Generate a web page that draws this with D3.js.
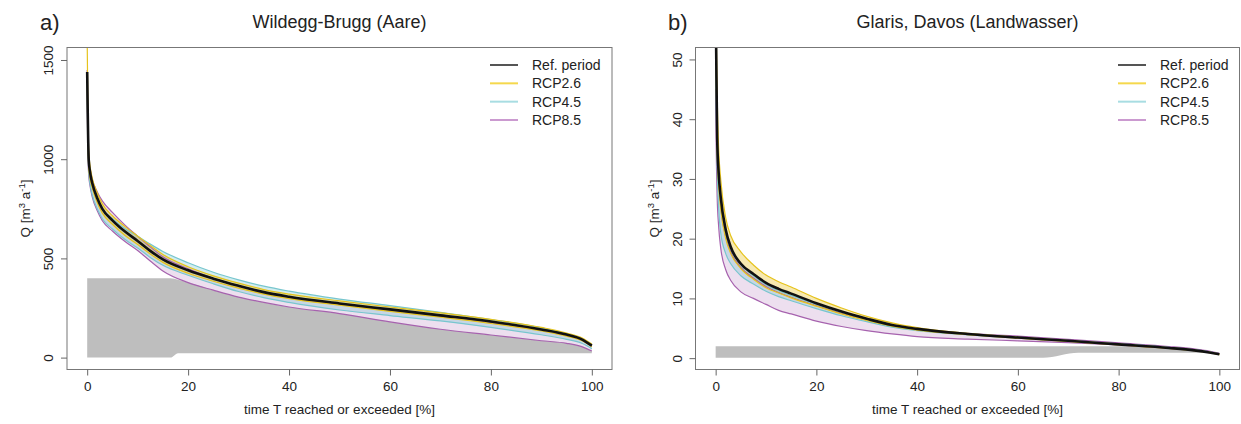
<!DOCTYPE html>
<html><head><meta charset="utf-8">
<script src="https://cdn.jsdelivr.net/npm/d3@7"></script>
<style>
html,body{margin:0;padding:0;background:#fff;}
svg{display:block;font-family:"Liberation Sans",Arial,Helvetica,sans-serif;}
</style></head>
<body><svg id="c" width="1241" height="424"></svg>
<script>
// ---------- DATA ----------
const pct = [0,0.1,0.3,0.6,1,2,3,5,7.5,10,12.5,15,20,25,30,35,40,50,60,70,80,90,95,98,100];
const seriesNames = ["Ref. period","RCP2.6","RCP4.5","RCP8.5"];
const xTicks = [0,20,40,60,80,100];

// Panel a: Wildegg-Brugg (Aare)
const refA     = [1440,1250,1000,930,880,803,750,692,635,588,538,495,440,398,362,330,307,273,243,213,182,142,116,92,60];
const rcp26A_hi= [1600,1350,1040,960,905,830,775,715,660,612,565,520,458,412,375,343,320,286,255,225,193,152,124,100,68];
const rcp26A_lo= [1400,1180,960,900,855,780,728,672,615,570,522,480,425,385,350,320,297,264,233,204,172,134,108,86,55];
const rcp45A_hi= [1420,1200,990,920,870,800,752,700,650,612,572,535,478,430,392,360,335,295,262,228,192,150,120,96,64];
const rcp45A_lo= [1380,1150,940,870,820,750,700,648,595,552,505,465,415,372,333,302,278,240,212,185,152,115,92,72,45];
const rcp85A_hi= [1450,1230,1010,950,900,835,790,732,668,612,558,508,448,400,362,330,305,270,240,210,178,140,113,90,58];
const rcp85A_lo= [1350,1100,920,860,810,740,690,638,585,540,487,437,378,340,305,278,255,222,180,143,114,85,72,55,33];
const grayA_x  = [0,16.5,18,20,25,30,35,40,50,60,70,80,90,95,98,100];
const grayA_top= [400,400,392,378,340,305,278,255,222,180,143,114,85,72,55,33];
const grayA_bot= [0,0,22,22,22,22,22,22,22,22,22,22,22,22,22,22];
const yTicksA  = [0,500,1000,1500];

// Panel b: Glaris, Davos (Landwasser)
const refB     = [60,52,37,31,27,21.5,18.6,15.8,14.1,12.6,11.6,10.8,9.2,7.8,6.6,5.55,4.9,4.05,3.45,2.9,2.3,1.7,1.3,0.95,0.65];
const rcp26B_hi= [62,56,44,35,30,23.5,20.5,17.8,15.6,13.9,12.8,11.9,10.0,8.4,7.0,5.9,5.1,4.15,3.5,2.95,2.35,1.75,1.35,1.0,0.7];
const rcp26B_lo= [55,48,35,29,25,20,17.5,15,13.2,11.8,10.9,10.1,8.7,7.4,6.3,5.35,4.7,3.95,3.35,2.8,2.2,1.62,1.25,0.9,0.6];
const rcp45B_hi= [58,50,38,31,26.5,21,18.3,15.6,13.8,12.3,11.3,10.5,9.0,7.7,6.5,5.5,4.9,4.1,3.5,2.95,2.4,1.8,1.4,1.05,0.72];
const rcp45B_lo= [50,42,32,25,21,17.5,15.8,13.8,12.4,11.2,10.3,9.6,8.3,7.1,6.1,5.2,4.6,3.9,3.35,2.85,2.3,1.7,1.3,0.95,0.65];
const rcp85B_hi= [56,48,36,30,25.5,20.5,17.8,15.2,13.4,12.0,11.0,10.2,8.8,7.5,6.4,5.5,4.9,4.15,3.7,3.15,2.55,1.95,1.55,1.2,0.8];
const rcp85B_lo= [45,36,27,22,18.5,14.8,13,11.1,10,9.0,8.0,7.4,6.2,5.3,4.6,4.05,3.6,3.2,2.9,2.6,2.2,1.7,1.35,1.0,0.7];
const grayB_x  = [0,65,72,82,90,95,97];
const grayB_top= [2.0,2.0,2.0,2.0,1.62,1.25,0.95];
const grayB_bot= [0.05,0.05,0.9,0.9,0.9,0.9,0.95];
const yTicksB  = [0,10,20,30,40,50];

// ---------- STYLE ----------
const lineCol  = {"RCP2.6":"#E6C31C","RCP4.5":"#78C6CE","RCP8.5":"#A662AE"};
const fillCol  = {"RCP2.6":"rgba(232,192,30,0.35)","RCP4.5":"rgba(110,195,205,0.30)","RCP8.5":"rgba(172,108,184,0.22)"};
const legCol   = {"Ref. period":"#555","RCP2.6":"#F5D84C","RCP4.5":"#A8DDE2","RCP8.5":"#CB9AD0"};
const txt = "#222";

const svg = d3.select("#c");

const panels = [
  {id:"a", tag:"a)", title:"Wildegg-Brugg (Aare)", box:[67,612,47.5,369.5], yDom:[-60,1563], yTicks:yTicksA,
   ref:refA, bands:{"RCP8.5":[rcp85A_lo,rcp85A_hi],"RCP4.5":[rcp45A_lo,rcp45A_hi],"RCP2.6":[rcp26A_lo,rcp26A_hi]},
   gx:grayA_x, gt:grayA_top, gb:grayA_bot, legX:490},
  {id:"b", tag:"b)", title:"Glaris, Davos (Landwasser)", box:[695.5,1239.5,47.5,369.5], yDom:[-1.9,52], yTicks:yTicksB,
   ref:refB, bands:{"RCP8.5":[rcp85B_lo,rcp85B_hi],"RCP4.5":[rcp45B_lo,rcp45B_hi],"RCP2.6":[rcp26B_lo,rcp26B_hi]},
   gx:grayB_x, gt:grayB_top, gb:grayB_bot, legX:1118}
];

panels.forEach(p=>{
  const [L,R,T,B] = p.box;
  const x = d3.scaleLinear().domain([-4,104]).range([L,R]);
  const y = d3.scaleLinear().domain(p.yDom).range([B,T]);
  const g = svg.append("g");

  svg.append("clipPath").attr("id","clip"+p.id).append("rect")
    .attr("x",L).attr("y",T).attr("width",R-L).attr("height",B-T);
  const pg = g.append("g").attr("clip-path","url(#clip"+p.id+")");

  // gray area
  const gArea = d3.area().x((d,i)=>x(p.gx[i])).y0((d,i)=>y(p.gb[i])).y1((d,i)=>y(p.gt[i])).curve(d3.curveMonotoneX);
  pg.append("path").datum(p.gx).attr("d",gArea).attr("fill","#BEBEBE");

  // bands
  const order = ["RCP8.5","RCP4.5","RCP2.6"];
  order.forEach(k=>{
    const [lo,hi] = p.bands[k];
    const ar = d3.area().x((d,i)=>x(pct[i])).y0((d,i)=>y(lo[i])).y1((d,i)=>y(hi[i])).curve(d3.curveMonotoneX);
    pg.append("path").datum(pct).attr("d",ar).attr("fill",fillCol[k]);
  });
  order.forEach(k=>{
    const [lo,hi] = p.bands[k];
    [lo,hi].forEach(arr=>{
      const ln = d3.line().x((d,i)=>x(pct[i])).y((d,i)=>y(arr[i])).curve(d3.curveMonotoneX);
      pg.append("path").datum(pct).attr("d",ln).attr("fill","none").attr("stroke",lineCol[k]).attr("stroke-width",1.2);
    });
  });
  const refLine = d3.line().x((d,i)=>x(pct[i])).y((d,i)=>y(p.ref[i])).curve(d3.curveMonotoneX);
  pg.append("path").datum(pct).attr("d",refLine).attr("fill","none").attr("stroke","#111").attr("stroke-width",2.6);

  // box
  g.append("rect").attr("x",L).attr("y",T).attr("width",R-L).attr("height",B-T)
    .attr("fill","none").attr("stroke","#777").attr("stroke-width",1);

  // axes
  const xa = g.append("g").attr("transform",`translate(0,${B})`)
    .call(d3.axisBottom(x).tickValues(xTicks).tickSize(6).tickPadding(6).tickFormat(d3.format("d")));
  xa.select(".domain").remove();
  xa.selectAll("line").attr("stroke","#666");
  xa.selectAll("text").attr("fill",txt).style("font-size","13.5px").attr("dy","0.71em");

  const ya = g.append("g").attr("transform",`translate(${L},0)`)
    .call(d3.axisLeft(y).tickValues(p.yTicks).tickSize(6).tickFormat(d3.format("d")));
  ya.select(".domain").remove();
  ya.selectAll("line").attr("stroke","#666");
  ya.selectAll("text").attr("fill",txt).style("font-size","13.5px")
    .attr("transform","rotate(-90)").attr("x",0).attr("y",-14).attr("dy",0)
    .attr("text-anchor","middle");

  // axis titles
  g.append("text").attr("x",(L+R)/2).attr("y",414).attr("text-anchor","middle")
    .attr("fill",txt).style("font-size","13.5px").text("time T reached or exceeded [%]");
  const yt = g.append("text").attr("transform",`translate(${L-37},${(T+B)/2}) rotate(-90)`)
    .attr("text-anchor","middle").attr("fill",txt).style("font-size","13.5px");
  yt.append("tspan").text("Q [m");
  yt.append("tspan").attr("dy",-5).style("font-size","9.5px").text("3");
  yt.append("tspan").attr("dy",5).text(" a");
  yt.append("tspan").attr("dy",-5).style("font-size","9.5px").text("-1");
  yt.append("tspan").attr("dy",5).text("]");

  // titles
  g.append("text").attr("x",(L+R)/2).attr("y",28).attr("text-anchor","middle")
    .attr("fill",txt).style("font-size","18px").text(p.title);
  g.append("text").attr("x",p.id==="a"?40:668).attr("y",30)
    .attr("fill",txt).style("font-size","22px").text(p.tag);

  // legend
  const ly = d3.scaleLinear().domain([0,3]).range([65,120]);
  seriesNames.forEach((s,i)=>{
    g.append("line").attr("x1",p.legX).attr("x2",p.legX+28).attr("y1",ly(i)).attr("y2",ly(i))
      .attr("stroke",legCol[s]).attr("stroke-width",2);
    g.append("text").attr("x",p.legX+42).attr("y",ly(i)+5).attr("fill",txt)
      .style("font-size","14px").text(s);
  });
});
</script></body></html>
